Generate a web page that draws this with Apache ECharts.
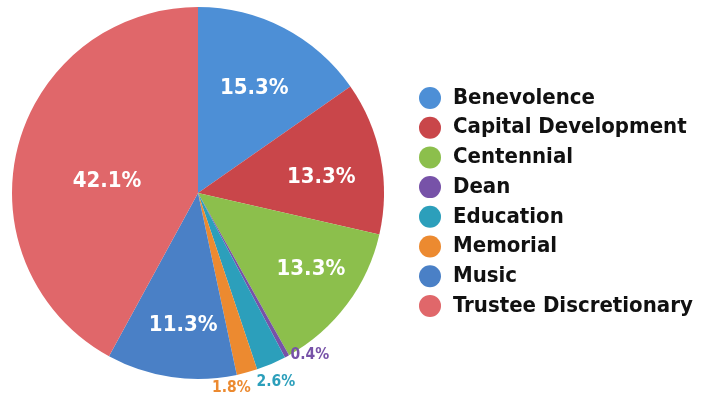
<!DOCTYPE html>
<html>
<head>
<meta charset="utf-8">
<script src="https://cdn.jsdelivr.net/npm/echarts@6/dist/echarts.min.js"></script>
<style>
  html, body { margin: 0; padding: 0; background: #ffffff; }
  #chart { width: 709px; height: 402px; }
</style>
</head>
<body>
<div id="chart"></div>
<script>
const categories = ['Benevolence', 'Capital Development', 'Centennial', 'Dean', 'Education', 'Memorial', 'Music', 'Trustee Discretionary']
const shares = [15.3, 13.3, 13.3, 0.4, 2.6, 1.8, 11.3, 42.1]
const colors = ['#4d8fd6', '#c9464a', '#8cbf4c', '#7752a8', '#2c9fbb', '#ec8a30', '#4a80c6', '#e0676a']

// label nudges from the default inside spot (half radius)
const labelOffsets = [[12, -20], [29, 3], [36, 19], [66, 78], [40, 101], [8, 102], [-1, 37], [2, 12]]
const smallSlices = [3, 4, 5]

const font = '"DejaVu Sans Condensed", sans-serif'

const chart = echarts.init(document.getElementById('chart'))

const pieData = categories.map((name, i) => {
  const small = smallSlices.includes(i)
  return {
    name,
    value: shares[i],
    itemStyle: { color: colors[i] },
    label: {
      offset: labelOffsets[i],
      fontSize: small ? 15.5 : 22,
      color: small ? colors[i] : '#ffffff',
    },
  }
})

chart.setOption({
  animation: false,
  legend: {
    orient: 'vertical',
    left: 414,
    top: 82,
    itemWidth: 22,
    itemHeight: 22,
    itemGap: 7.7,
    icon: 'circle',
    textStyle: { fontFamily: font, fontSize: 22, lineHeight: 22, fontWeight: 'bold', color: '#111111', padding: [0, 0, 0, 7] },
    data: categories,
  },
  series: [
    {
      type: 'pie',
      center: [198, 193],
      radius: 186,
      startAngle: 90,
      clockwise: true,
      avoidLabelOverlap: false,
      labelLayout: { hideOverlap: false },
      label: {
        show: true,
        position: 'inside',
        formatter: (p) => p.value.toFixed(1) + '%',
        fontFamily: font,
        fontWeight: 'bold',
      },
      labelLine: { show: false },
      itemStyle: { borderWidth: 0 },
      emphasis: { disabled: true },
      data: pieData,
    },
  ],
})
</script>
</body>
</html>
